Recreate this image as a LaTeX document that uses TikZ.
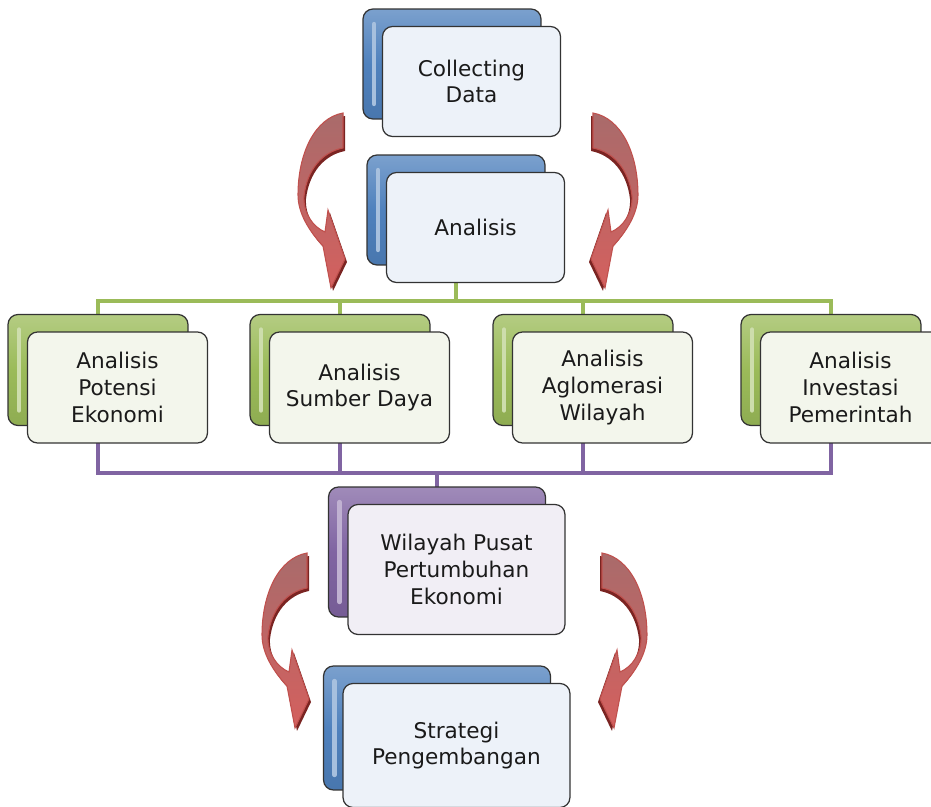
\documentclass[tikz,border=0pt]{standalone}
\usepackage{fontspec}
\setmainfont{DejaVu Sans}
\usetikzlibrary{backgrounds}

\definecolor{accblue}{HTML}{4F81BD}
\definecolor{accgreen}{HTML}{9BBB59}
\definecolor{accpurple}{HTML}{8064A2}
\definecolor{accred}{HTML}{C0504D}
\definecolor{arrowtop}{HTML}{A96B6B}
\definecolor{arrowbot}{HTML}{D4605E}
\definecolor{arrowdark}{HTML}{7A2422}
\definecolor{tintblue}{HTML}{EDF2F9}
\definecolor{tintgreen}{HTML}{F3F6EC}
\definecolor{tintpurple}{HTML}{F1EEF5}
\definecolor{inktext}{HTML}{1A1A1A}

\begin{document}
\begin{tikzpicture}[x=0.02cm, y=-0.02cm,
        backbox/.style={draw=black!80, line width=0.7pt, rounded corners=0.2cm,
            top color=#1!75!white, bottom color=#1!92!black, middle color=#1,
            path picture={\draw[white!50!#1, line width=2.5pt, line cap=round]
                ([xshift=0.22cm, yshift=-0.3cm]path picture bounding box.north west) --
                ([xshift=0.22cm, yshift=0.3cm]path picture bounding box.south west);}},
        frontbox/.style={draw=black!80, line width=0.7pt, rounded corners=0.2cm, fill=#1,
            text=inktext, align=center, inner sep=2pt,
            font=\fontsize{12.3}{15.2}\selectfont},
        front/.style={xshift=0.39cm, yshift=-0.35cm},
        topsize/.style={minimum width=3.56cm, minimum height=2.2cm},
        midsize/.style={minimum width=3.6cm, minimum height=2.22cm},
        pusatsize/.style={minimum width=4.34cm, minimum height=2.6cm},
        strategisize/.style={minimum width=4.54cm, minimum height=2.48cm},
        greenline/.style={draw=accgreen, line width=2.2pt},
        purpleline/.style={draw=accpurple, line width=2.2pt},
        bentarrow/.pic={
            \fill[arrowdark, shift={(2,3)}] (0,0) -- (0,35)
                .. controls (-21,39) and (-36,57) .. (-39,83)
                .. controls (-40,100) and (-30,114) .. (-18,119)
                -- (-15,97) -- (2,146) -- (-12,175) -- (-20,133)
                .. controls (-34,118) and (-45,100) .. (-45,82)
                .. controls (-45,40) and (-28,5) .. cycle;
            \draw[draw=accred, line width=0.6pt, top color=arrowtop, bottom color=arrowbot]
                (0,0) -- (0,35)
                .. controls (-21,39) and (-36,57) .. (-39,83)
                .. controls (-40,100) and (-30,114) .. (-18,119)
                -- (-15,97) -- (2,146) -- (-12,175) -- (-20,133)
                .. controls (-34,118) and (-45,100) .. (-45,82)
                .. controls (-45,40) and (-28,5) .. cycle;
        }]

    \path[use as bounding box] (0,0) rectangle (931,807);

    % Collecting data
    \node[backbox=accblue, topsize] (collect-back) at (452,64) {};
    \node[frontbox=tintblue, topsize, front] (collect) at (collect-back) {Collecting\\Data};

    % Analisis
    \node[backbox=accblue, topsize] (anal-back) at (456,210) {};
    \node[frontbox=tintblue, topsize, front] (anal) at (anal-back) {Analisis};

    % Four analyses
    \node[backbox=accgreen, midsize] (pot-back) at (98,370) {};
    \node[frontbox=tintgreen, midsize, front] (pot) at (pot-back) {Analisis\\Potensi\\Ekonomi};
    \node[backbox=accgreen, midsize] (sumber-back) at (340,370) {};
    \node[frontbox=tintgreen, midsize, front] (sumber) at (sumber-back) {Analisis\\Sumber Daya};
    \node[backbox=accgreen, midsize] (aglo-back) at (583,370) {};
    \node[frontbox=tintgreen, midsize, front] (aglo) at (aglo-back) {Analisis\\Aglomerasi\\Wilayah};
    \node[backbox=accgreen, midsize] (inv-back) at (831,370) {};
    \node[frontbox=tintgreen, midsize, front] (inv) at (inv-back) {Analisis\\Investasi\\Pemerintah};

    % Growth centre
    \node[backbox=accpurple, pusatsize] (pusat-back) at (437,552) {};
    \node[frontbox=tintpurple, pusatsize, front] (pusat) at (pusat-back) {Wilayah Pusat\\Pertumbuhan\\Ekonomi};

    % Strategy
    \node[backbox=accblue, strategisize] (strategi-back) at (437,728) {};
    \node[frontbox=tintblue, strategisize, front] (strategi) at (strategi-back) {Strategi\\Pengembangan};

    % Bus lines
    \coordinate (greenbus) at (456,301);
    \coordinate (purplebus) at (435,473);
    \begin{scope}[on background layer]
        \draw[greenline] (anal-back.center) -- (anal-back.center |- greenbus);
        \draw[greenline] (pot-back.center) -- (pot-back.center |- greenbus) -| (inv-back.center);
        \draw[greenline] (sumber-back.center) -- (sumber-back.center |- greenbus);
        \draw[greenline] (aglo-back.center) -- (aglo-back.center |- greenbus);
        \draw[purpleline] (pot-back.center) -- (pot-back.center |- purplebus) -| (inv-back.center);
        \draw[purpleline] (sumber-back.center) -- (sumber-back.center |- purplebus);
        \draw[purpleline] (aglo-back.center) -- (aglo-back.center |- purplebus);
        \draw[purpleline] (pusat-back.center) -- (pusat-back.center |- purplebus);
    \end{scope}

    % Curved arrows
    \pic (arrow1) at (343,113) {bentarrow};
    \pic[xscale=-1] (arrow2) at (593,113) {bentarrow};
    \pic (arrow3) at (307,553) {bentarrow};
    \pic[xscale=-1] (arrow4) at (602,553) {bentarrow};

\end{tikzpicture}
\end{document}
